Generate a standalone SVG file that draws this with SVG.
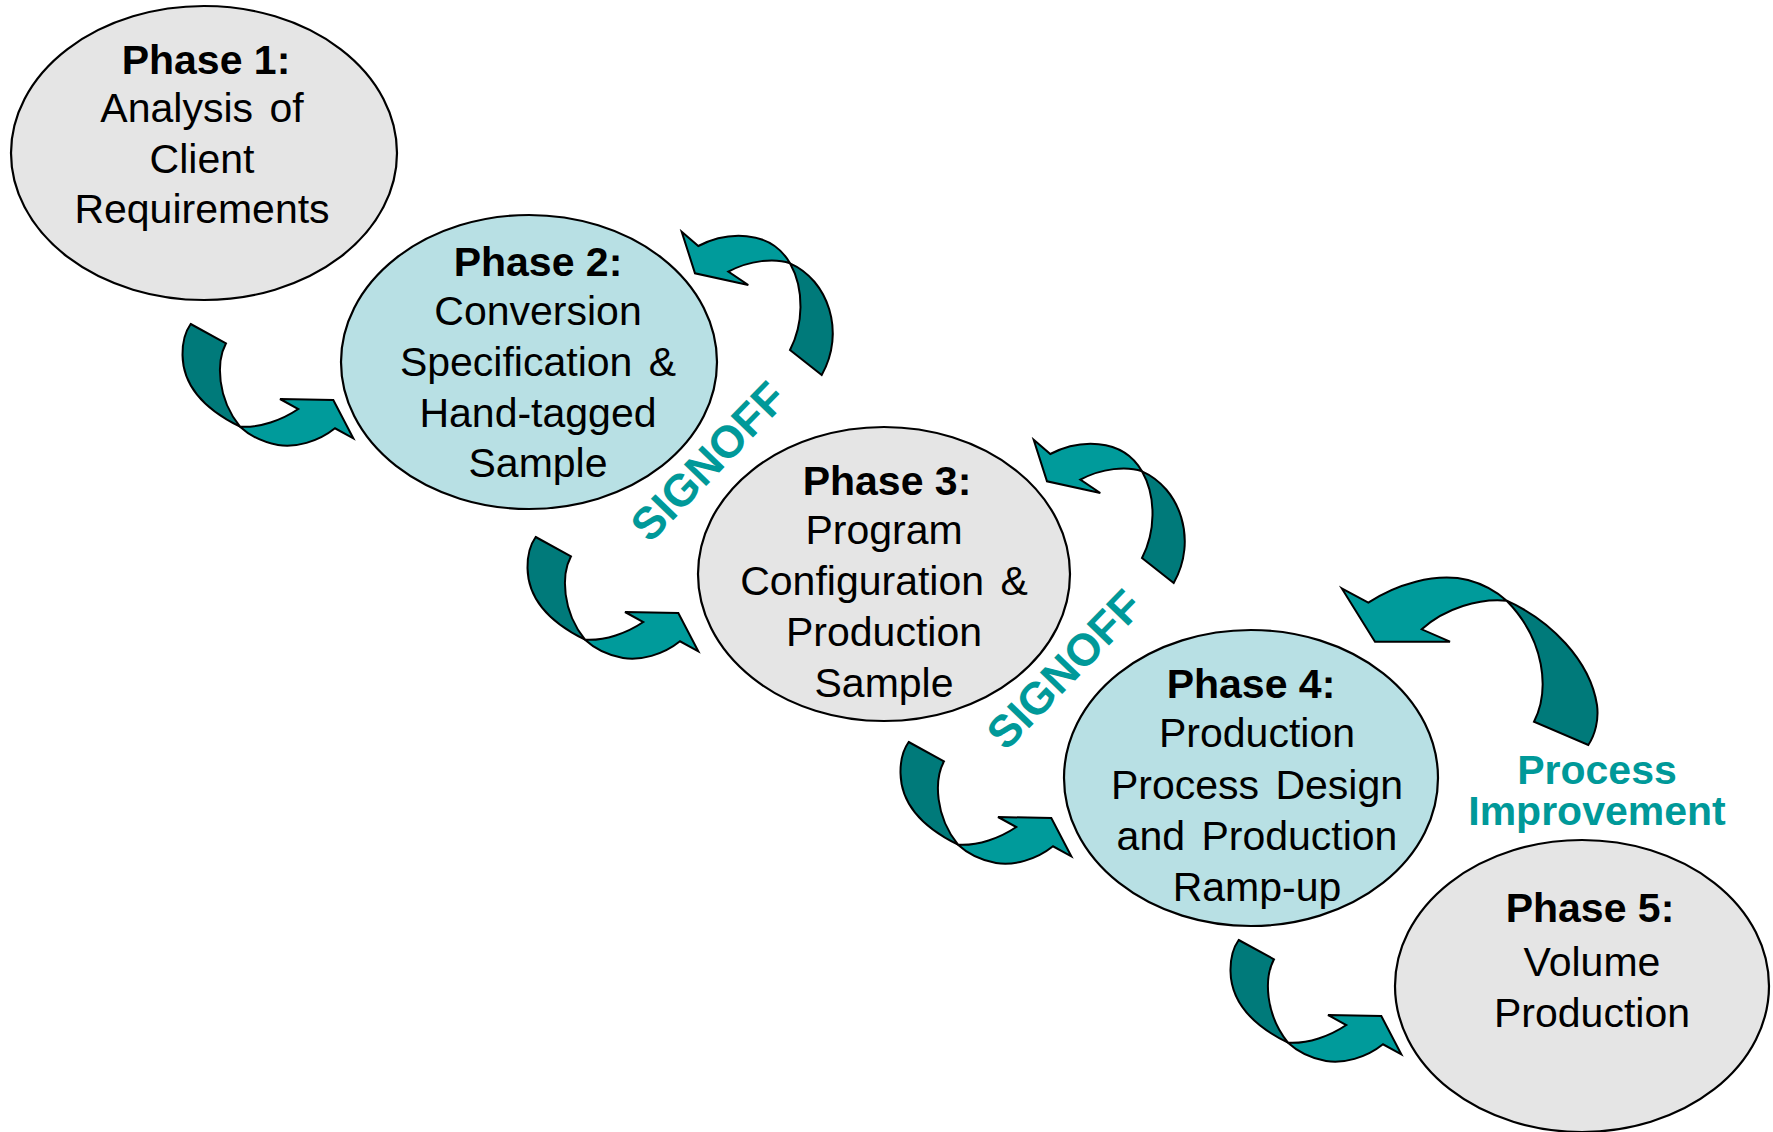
<svg xmlns="http://www.w3.org/2000/svg" width="1773" height="1132" viewBox="0 0 1773 1132">
<style>
.node-grey{fill:#e5e5e5;stroke:#000;stroke-width:2.2}
.node-blue{fill:#b8e0e4;stroke:#000;stroke-width:2.2}
.t{font-family:"Liberation Sans",Arial,sans-serif;font-size:41px;fill:#000;text-anchor:middle;word-spacing:5px}
.tb{font-weight:bold;word-spacing:0}
.teal{font-family:"Liberation Sans",Arial,sans-serif;font-size:41px;font-weight:bold;fill:#009999;text-anchor:middle}
.lt{fill:#009b9b;stroke:#000;stroke-width:2;stroke-linejoin:miter}
.dk{fill:#007a7a;stroke:#000;stroke-width:2;stroke-linejoin:miter}
</style>
<defs>
<g id="downArrow">
<path class="dk" d="M190.7,324 L226,343.3 C216,362 217,398 240,426.7 C210,412 183,390 182.5,355 C182.3,342 185,332 190.7,324 Z"/>
<path class="lt" d="M240,426.7 C260,428 282,420 298.3,409 L280,399 L333.3,400 L353.3,438.3 L335,428.3 C318,442 295,448 278,445 C262,442 250,436 240,426.7 Z"/>
</g>
<g id="upArrow">
<path class="lt" d="M681.7,231.7 L698.3,246 C725,232 770,228 790,263.3 C775,258 750,260 728.3,271.7 L748.3,285 L695,273.3 Z"/>
<path class="dk" d="M790,263.3 C828,280 846,332 821.7,375 L790,350 C803,325 805,290 790,263.3 Z"/>
</g>
</defs>

<g id="connectors">
<use href="#downArrow"/>
<use href="#downArrow" transform="translate(345,213)"/>
<use href="#downArrow" transform="translate(718,418)"/>
<use href="#downArrow" transform="translate(1048,616)"/>
<use href="#upArrow"/>
<use href="#upArrow" transform="translate(352,208)"/>
<g id="bigArrow">
<path class="lt" d="M1341.7,588.3 L1368.3,602.7 C1395,585 1435,572 1468,580 C1483,584 1497,592 1506.7,600.7 C1480,598 1445,608 1421.7,629.3 L1450,641.7 L1375,641.7 Z"/>
<path class="dk" d="M1506.7,600.7 C1550,620 1590,660 1597,705 C1599,720 1595,735 1588.3,745 L1534,721.7 C1550,690 1545,640 1506.7,600.7 Z"/>
</g>
</g>

<g id="phase1">
<ellipse class="node-grey" cx="204" cy="153" rx="193" ry="147"/>
<text class="t tb" x="206" y="74">Phase 1:</text>
<text class="t" x="202" y="122">Analysis of</text>
<text class="t" x="202" y="173">Client</text>
<text class="t" x="202" y="223">Requirements</text>
</g>

<g id="phase2">
<ellipse class="node-blue" cx="529" cy="362" rx="188" ry="147"/>
<text class="t tb" x="538" y="276">Phase 2:</text>
<text class="t" x="538" y="325">Conversion</text>
<text class="t" x="538" y="376">Specification &amp;</text>
<text class="t" x="538" y="427">Hand-tagged</text>
<text class="t" x="538" y="477">Sample</text>
</g>

<g id="phase3">
<ellipse class="node-grey" cx="884" cy="574" rx="186" ry="147"/>
<text class="t tb" x="887" y="495">Phase 3:</text>
<text class="t" x="884" y="544">Program</text>
<text class="t" x="884" y="595">Configuration &amp;</text>
<text class="t" x="884" y="646">Production</text>
<text class="t" x="884" y="697">Sample</text>
</g>

<g id="phase4">
<ellipse class="node-blue" cx="1251" cy="778" rx="187" ry="148"/>
<text class="t tb" x="1251" y="698">Phase 4:</text>
<text class="t" x="1257" y="747">Production</text>
<text class="t" x="1257" y="799">Process Design</text>
<text class="t" x="1257" y="850">and Production</text>
<text class="t" x="1257" y="901">Ramp-up</text>
</g>

<g id="phase5">
<ellipse class="node-grey" cx="1582" cy="986" rx="187" ry="146"/>
<text class="t tb" x="1590" y="922">Phase 5:</text>
<text class="t" x="1592" y="976">Volume</text>
<text class="t" x="1592" y="1027">Production</text>
</g>

<g id="labels">
<text class="teal" transform="translate(708,461) rotate(-46)" x="0" y="16" style="font-size:45px">SIGNOFF</text>
<text class="teal" transform="translate(1064,669) rotate(-46)" x="0" y="16" style="font-size:45px">SIGNOFF</text>
<text class="teal"><tspan x="1597" y="784">Process</tspan><tspan x="1597" y="825">Improvement</tspan></text>
</g>
</svg>
